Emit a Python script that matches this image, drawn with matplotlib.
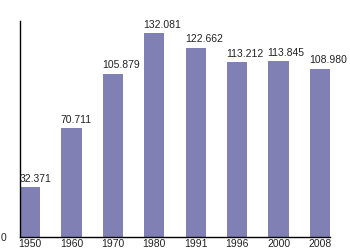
import matplotlib
matplotlib.use("Agg")
import matplotlib.pyplot as plt

years = ["1950", "1960", "1970", "1980", "1991", "1996", "2000", "2008"]
values = [32.371, 70.711, 105.879, 132.081, 122.662, 113.212, 113.845, 108.980]
labels = ["32.371", "70.711", "105.879", "132.081", "122.662", "113.212", "113.845", "108.980"]

plt.rcParams['font.family'] = ['Liberation Sans', 'DejaVu Sans']
fig = plt.figure(figsize=(3.5, 2.5), dpi=100)
ax = fig.add_axes([20/350, 13/250, 310/350, 216/250])
w = 0.485
x = list(range(len(years)))
ax.bar(x, values, width=w, color='#8080b4', edgecolor='none')
for xi, v, lab in zip(x, values, labels):
    ax.text(xi - w/2 - 0.02, v + 2.2, lab, ha='left', va='bottom', fontsize=7.5, color='#222222')
ax.set_xlim(-w/2, len(years) - 1 + w/2)
ax.set_ylim(0, 140)
ax.set_xticks(x)
ax.set_xticklabels(years, fontsize=7.5, color='#222222')
ax.set_yticks([0])
ax.set_yticklabels(["0"], fontsize=7.5, color='#222222')
ax.tick_params(axis='x', length=0, pad=1.5)
ax.tick_params(axis='y', length=0, pad=10)
for s in ['top', 'right']:
    ax.spines[s].set_visible(False)
for s in ['left', 'bottom']:
    ax.spines[s].set_linewidth(1.0)
    ax.spines[s].set_color('black')
fig.savefig("out.png", dpi=100)
